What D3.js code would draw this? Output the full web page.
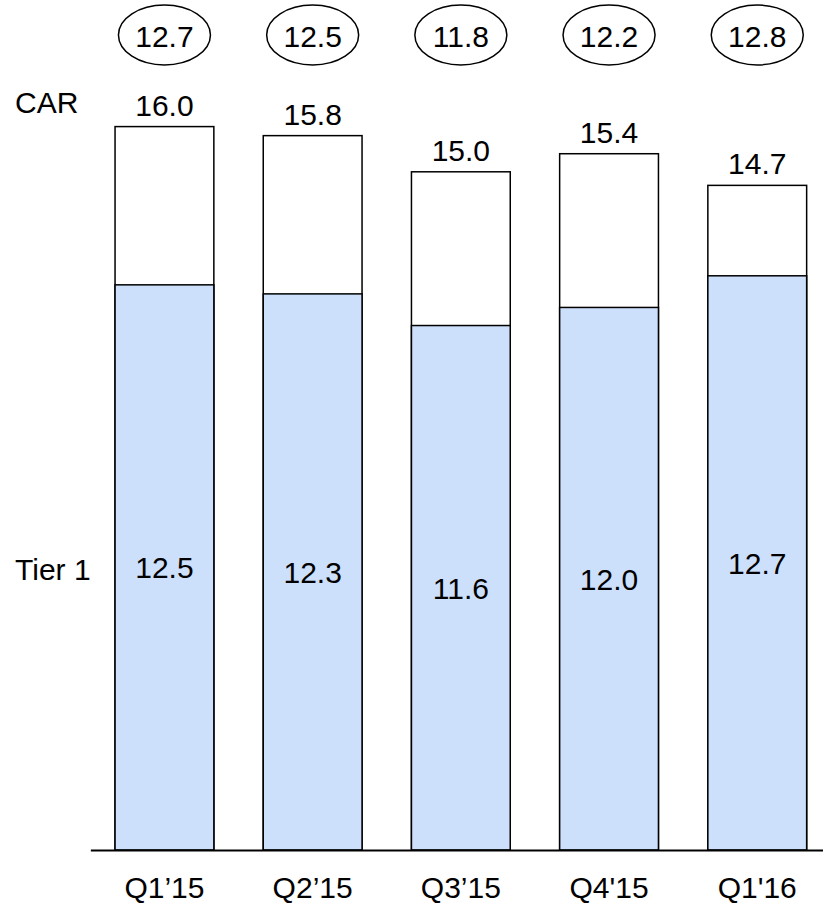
<!DOCTYPE html>
<html>
<head>
<meta charset="utf-8">
<script src="https://cdn.jsdelivr.net/npm/d3@7"></script>
<style>
  body { margin: 0; background: #fff; }
  text { font-family: "Liberation Sans", Arial, sans-serif; fill: #000; }
</style>
</head>
<body>
<div id="chart"></div>
<script>
var quarters = ["Q1’15", "Q2’15", "Q3’15", "Q4'15", "Q1'16"];
var carValues = [16.0, 15.8, 15.0, 15.4, 14.7];
var tier1Values = [12.5, 12.3, 11.6, 12.0, 12.7];
var circledValues = [12.7, 12.5, 11.8, 12.2, 12.8];

var svgWidth = 823;
var svgHeight = 903;
var baseY = 850;

var data = quarters.map(function(q, i) {
  return { q: q, car: carValues[i], tier1: tier1Values[i], circ: circledValues[i] };
});

var svg = d3.select("#chart")
  .append("svg")
  .attr("width", svgWidth)
  .attr("height", svgHeight);

var x = d3.scaleBand()
  .domain(quarters)
  .range([90.35, 831.35])
  .paddingInner(1 / 3)
  .paddingOuter(1 / 6);

var y = d3.scaleLinear()
  .domain([0, 18.8])
  .range([baseY, 0]);

var bars = svg.selectAll("g.bar")
  .data(data)
  .enter()
  .append("g")
  .attr("class", "bar");

// CAR (white) part
bars.append("rect")
  .attr("x", d => x(d.q))
  .attr("y", d => y(d.car))
  .attr("width", x.bandwidth())
  .attr("height", d => baseY - y(d.car))
  .attr("fill", "#fff")
  .attr("stroke", "#000")
  .attr("stroke-width", 1.5);

// Tier 1 part
bars.append("rect")
  .attr("x", d => x(d.q))
  .attr("y", d => y(d.tier1))
  .attr("width", x.bandwidth())
  .attr("height", d => baseY - y(d.tier1))
  .attr("fill", "#cce0fc")
  .attr("stroke", "#000")
  .attr("stroke-width", 1.5);

// CAR labels above bars
bars.append("text")
  .attr("x", d => x(d.q) + x.bandwidth() / 2)
  .attr("y", d => y(d.car) - 11)
  .attr("text-anchor", "middle")
  .style("font-size", "30px")
  .text(d => d.car.toFixed(1));

// Tier 1 labels, centred in segment
bars.append("text")
  .attr("x", d => x(d.q) + x.bandwidth() / 2)
  .attr("y", d => (y(d.tier1) + baseY) / 2)
  .attr("dy", "0.36em")
  .attr("text-anchor", "middle")
  .style("font-size", "30px")
  .text(d => d.tier1.toFixed(1));

// circled values on top
bars.append("ellipse")
  .attr("cx", d => x(d.q) + x.bandwidth() / 2)
  .attr("cy", 35)
  .attr("rx", 46)
  .attr("ry", 30)
  .attr("fill", "none")
  .attr("stroke", "#000")
  .attr("stroke-width", 1.5);

bars.append("text")
  .attr("x", d => x(d.q) + x.bandwidth() / 2)
  .attr("y", 47)
  .attr("text-anchor", "middle")
  .style("font-size", "30px")
  .text(d => d.circ.toFixed(1));

// x axis
var xAxis = svg.append("g")
  .attr("transform", `translate(0, ${baseY})`)
  .call(d3.axisBottom(x).tickSize(0).tickPadding(27));

xAxis.select(".domain")
  .attr("stroke", "#000")
  .attr("stroke-width", 2);

xAxis.selectAll("text")
  .style("font-size", "30px")
  .style("font-family", "'Liberation Sans', Arial, sans-serif")
  .attr("fill", "#000");

// row labels
svg.append("text")
  .attr("x", 15)
  .attr("y", 113)
  .style("font-size", "30px")
  .text("CAR");

svg.append("text")
  .attr("x", 15)
  .attr("y", 580)
  .style("font-size", "30px")
  .text("Tier 1");
</script>
</body>
</html>
